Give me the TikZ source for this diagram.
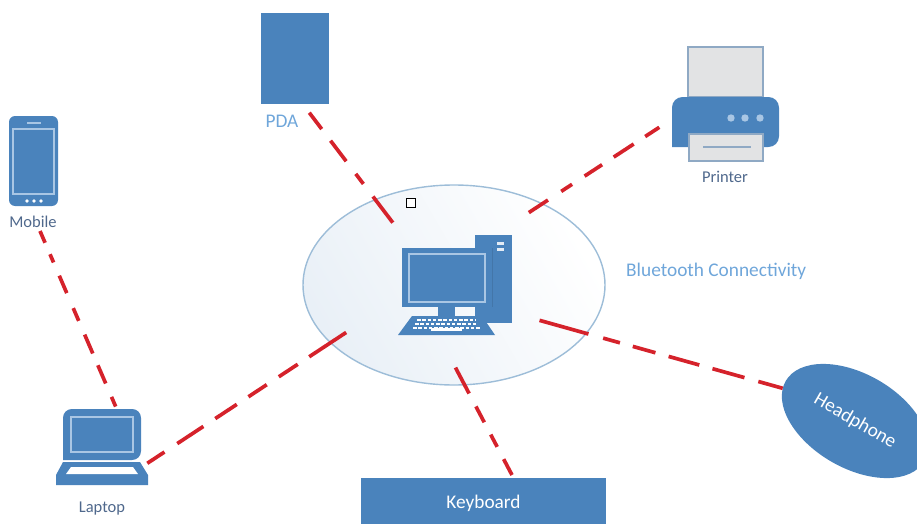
\documentclass[tikz,border=0pt]{standalone}
\usepackage{fontspec}
\setmainfont{Carlito}
\usetikzlibrary{shapes.geometric}
\definecolor{devblue}{HTML}{4A83BC}
\definecolor{lineblue}{HTML}{A9C6E4}
\definecolor{hubline}{HTML}{9DBDD8}
\definecolor{linkred}{HTML}{D5222B}
\definecolor{labelblue}{HTML}{6FA6DA}
\definecolor{labeldark}{HTML}{4F688C}
\definecolor{papergrey}{HTML}{E2E3E4}
\definecolor{papershade}{HTML}{8FA9C4}
\begin{document}
\begin{tikzpicture}[x=0.02cm, y=-0.02cm,
	device style/.style={fill=devblue, draw=none},
	screen style/.style={draw=lineblue, line width=0.8pt},
	paper style/.style={fill=papergrey, draw=papershade, line width=0.8pt},
	link style/.style={draw=linkred, line width=2.1pt},
	small style/.style={text=labeldark, font=\fontsize{9.4}{11}\selectfont},
	blue style/.style={text=labelblue, font=\fontsize{11}{13}\selectfont},
	white style/.style={text=white, font=\fontsize{11}{13}\selectfont}]
	\useasboundingbox (0,0) rectangle (917,524);
	\node[ellipse, draw=hubline, line width=0.8pt, left color=devblue!12, right color=white, shading angle=120, minimum width=302*0.02cm, minimum height=200*0.02cm, inner sep=0pt] (S1) at (454,285) {};
	\node[device style, rectangle, minimum width=68*0.02cm, minimum height=91*0.02cm, inner sep=0pt] (S2) at (295,58.5) {};
	\node[device style, rectangle, anchor=north, minimum width=245*0.02cm, minimum height=50*0.02cm, inner sep=0pt, white style] (S3) at (483.5,478) {Keyboard};
	\node[device style, ellipse, rotate=-30, minimum width=160*0.02cm, minimum height=94*0.02cm, inner sep=0pt, white style] (S4) at (855,421) {Headphone};
	\node[blue style] (T1) at (282,121) {PDA};
	\node[blue style, anchor=west] (T2) at (620,271) {Bluetooth Connectivity};
	\node[small style] (T3) at (725,177) {Printer};
	\node[small style] (T4) at (33,222) {Mobile};
	\node[small style] (T5) at (102,508.5) {Laptop};
	\node[draw=black, fill=white, line width=0.6pt, minimum size=9*0.02cm, inner sep=0pt] (S5) at (411,203) {};
	\fill[device style] (475,235) rectangle (512,323);
	\fill[devblue!90!black] (492,248) rectangle (493,307);
	\fill[device style] (402,248) rectangle (492,307);
	\draw[screen style] (409,254) rectangle (485,302);
	\fill[device style] (438,307) rectangle (455,316);
	\fill[device style] (412,316) -- (482,316) -- (495,335) -- (398,335) -- cycle;
	\foreach \y in {243.5,249.5}
	\fill[white!85!devblue] (497,\y-1.5) rectangle (504,\y+1.5);
	\foreach \y/\a/\b in {320/417/476,324/415/478,328/413/480}
	\draw[white, line width=1.5pt, dash pattern=on 2pt off 1pt] (\a,\y) -- (\b,\y);
	\fill[white] (431,328) rectangle (462,331);
	\draw[paper style] (688,47) rectangle (763,97);
	\fill[device style, rounded corners=6pt] (672,147) -- (672,97) -- (779,97) -- (779,147) [sharp corners] -- cycle;
	\draw[paper style] (689,134) rectangle (763,161);
	\draw[papershade, line width=0.8pt] (703,147) -- (751,147);
	\foreach \x in {731,745,760}
	\fill[lineblue] (\x,118) circle (3.7);
	\fill[device style, rounded corners=3.5pt] (9,116) rectangle (58,206);
	\draw[screen style] (13,129) rectangle (54,194);
	\draw[lineblue, line width=0.8pt] (27,123) -- (41,123);
	\foreach \x in {27,34,41}
	\fill[white] (\x,201) circle (1.8);
	\fill[device style, rounded corners=5pt] (63,460) -- (63,409) -- (141,409) -- (141,460) [sharp corners] -- cycle;
	\draw[screen style] (71,417) rectangle (133,452);
	\fill[device style] (63,462) -- (140,462) -- (148,475) -- (148,485) -- (56,485) -- (56,475) -- cycle;
	\fill[white] (71,467) -- (133,467) -- (138,474) -- (66,474) -- cycle;
	\coordinate (D1) at (309.3,112.7);
	\coordinate (H1) at (393.3,223.3);
	\coordinate (D2) at (659.3,127.3);
	\coordinate (H2) at (527.7,213.3);
	\coordinate (D3) at (40,231);
	\coordinate (H3) at (116,407.3);
	\coordinate (D4) at (147.3,463.3);
	\coordinate (H4) at (347.3,331.7);
	\coordinate (D5) at (512,475);
	\coordinate (H5) at (455,366.7);
	\coordinate (D6) at (782.7,388.3);
	\coordinate (H6) at (538.3,320);
	\draw[link style, dash pattern=on 11.7pt off 8.3pt on 14.7pt off 9pt on 7.2pt off 9pt on 18.7pt off 50pt] (D1) -- (H1);
	\draw[link style, dash pattern=on 9.6pt off 7.8pt on 13.6pt off 7.9pt on 11.9pt off 8.5pt on 7.4pt off 9pt on 13pt off 50pt] (D2) -- (H2);
	\draw[link style, dash pattern=on 7.3pt off 7.1pt on 5.1pt off 8.2pt on 10.8pt off 9.3pt on 7.9pt off 8.5pt on 11.7pt off 7.3pt on 11.3pt off 8.3pt on 6pt off 50pt] (D3) -- (H3);
	\draw[link style, dash pattern=on 11.7pt off 8.7pt on 17.8pt off 8.1pt on 14.7pt off 7.9pt on 12.5pt off 8.2pt on 12.9pt off 7.8pt on 25.2pt off 50pt] (D4) -- (H4);
	\draw[link style, dash pattern=on 10.2pt off 7.9pt on 7.9pt off 7.9pt on 10.2pt off 8.3pt on 16.7pt off 50pt] (D5) -- (H5);
	\draw[link style, dash pattern=on 14.4pt off 8.2pt on 18.9pt off 7.8pt on 18.1pt off 7.8pt on 13.4pt off 7.6pt on 9.9pt off 8.7pt on 28.9pt off 50pt] (D6) -- (H6);
\end{tikzpicture}
\end{document}
